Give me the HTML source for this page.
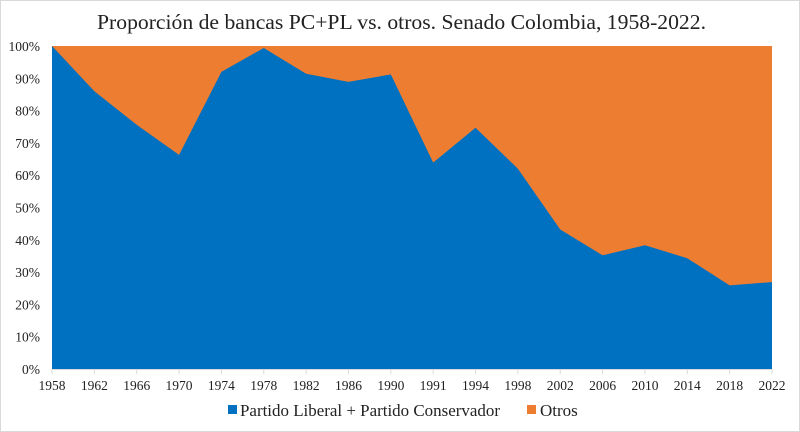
<!DOCTYPE html>
<html><head><meta charset="utf-8"><style>
html,body{margin:0;padding:0;background:#fff}
svg{display:block}
text{font-family:"Liberation Serif",serif;fill:#222}
</style></head><body>
<svg id="chart" width="800" height="432">
<rect x="0.5" y="0.5" width="799" height="431" fill="#fff" stroke="#d9d9d9"/>
<text x="97" y="29" font-size="21" textLength="609" lengthAdjust="spacingAndGlyphs">Proporción de bancas PC+PL vs. otros. Senado Colombia, 1958-2022.</text>
<g id="plot"></g>
<g>
<rect x="228" y="405" width="9" height="9" fill="#0070c0"/>
<text x="240" y="416" font-size="17" textLength="260" lengthAdjust="spacingAndGlyphs">Partido Liberal + Partido Conservador</text>
<rect x="527" y="405" width="9" height="9" fill="#ed7d31"/>
<text x="540" y="416" font-size="17">Otros</text>
</g>
</svg>
<script>
const categories=["1958","1962","1966","1970","1974","1978","1982","1986","1990","1991","1994","1998","2002","2006","2010","2014","2018","2022"];
const pcplValues=[100,86,75.6,66.3,92,99.4,91.4,88.9,91.2,63.9,74.7,62,43.2,35.2,38.3,34.3,25.9,26.9];
const yTicks=[0,10,20,30,40,50,60,70,80,90,100];
const X0=52,X1=772,Y0=369,Y1=46;
const ns="http://www.w3.org/2000/svg";
const g=document.getElementById('plot');
const xs=i=>X0+i*(X1-X0)/(categories.length-1);
const ys=v=>Y0-(v/100)*(Y0-Y1);
function mk(t,a){const e=document.createElementNS(ns,t);for(const k in a)e.setAttribute(k,a[k]);g.appendChild(e);return e;}
const otros=mk('rect',{x:X0,y:Y1,width:X1-X0,height:Y0-Y1,fill:'#ed7d31'});


let d='M'+X0+','+Y0;
pcplValues.forEach((v,i)=>{d+=' L'+xs(i)+','+ys(v);});
d+=' L'+X1+','+Y0+' Z';
const a=mk('path',{d:d,fill:'#0070c0'});


const ax=mk('line',{x1:X0,x2:X1,y1:Y0+0.5,y2:Y0+0.5,stroke:'#d9d9d9'});


yTicks.forEach(v=>{
 const t=mk('text',{x:40,y:ys(v)+5,'font-size':'13.5','text-anchor':'end'});
 t.textContent=v+'%';
 
 
});
categories.forEach((c,i)=>{
 const tk=mk('line',{x1:xs(i),x2:xs(i),y1:Y0,y2:Y0+5,stroke:'#d9d9d9'});
 
 
 const t=mk('text',{x:xs(i),y:Y0+21,'font-size':'13.5','text-anchor':'middle'});
 t.textContent=c;
 
 
});
</script>
</body></html>
